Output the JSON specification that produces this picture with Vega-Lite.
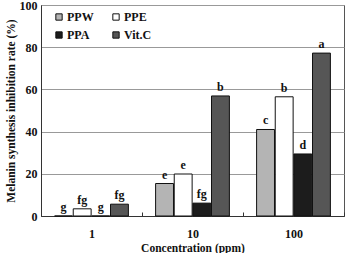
{
  "$schema": "https://vega.github.io/schema/vega-lite/v6.json",
  "width": 303,
  "height": 211,
  "autosize": {"type": "none"},
  "padding": {"left": 41, "top": 5, "right": 2, "bottom": 37},
  "background": "white",
  "data": {
    "values": [
      {"conc": "1", "extract": "PPW", "rate": 0, "sig": "g"},
      {"conc": "1", "extract": "PPE", "rate": 3.4, "sig": "fg"},
      {"conc": "1", "extract": "PPA", "rate": 0, "sig": "g"},
      {"conc": "1", "extract": "Vit.C", "rate": 5.6, "sig": "fg"},
      {"conc": "10", "extract": "PPW", "rate": 15.4, "sig": "e"},
      {"conc": "10", "extract": "PPE", "rate": 19.9, "sig": "e"},
      {"conc": "10", "extract": "PPA", "rate": 6.1, "sig": "fg"},
      {"conc": "10", "extract": "Vit.C", "rate": 56.9, "sig": "b"},
      {"conc": "100", "extract": "PPW", "rate": 41.0, "sig": "c"},
      {"conc": "100", "extract": "PPE", "rate": 56.5, "sig": "b"},
      {"conc": "100", "extract": "PPA", "rate": 29.4, "sig": "d"},
      {"conc": "100", "extract": "Vit.C", "rate": 77.2, "sig": "a"}
    ]
  },
  "encoding": {
    "x": {
      "field": "conc",
      "type": "ordinal",
      "sort": ["1", "10", "100"],
      "scale": {"paddingInner": 0, "paddingOuter": 0},
      "axis": {
        "title": "Concentration (ppm)",
        "labelAngle": 0,
        "tickBand": "extent",
        "tickSize": -4,
        "tickColor": "#333",
        "domainColor": "#333",
        "labelPadding": 16,
        "titlePadding": 3
      }
    },
    "xOffset": {
      "field": "extract",
      "type": "nominal",
      "sort": ["PPW", "PPE", "PPA", "Vit.C"],
      "scale": {"paddingOuter": 0.73, "paddingInner": 0.04}
    },
    "y": {
      "field": "rate",
      "type": "quantitative",
      "scale": {"domain": [0, 100]},
      "axis": {
        "title": "Melanin synthesis inhibition rate (%)",
        "values": [0, 20, 40, 60, 80, 100],
        "ticks": false,
        "grid": true,
        "gridColor": "#999",
        "domainColor": "#333",
        "labelPadding": 4,
        "titlePadding": 3
      }
    }
  },
  "layer": [
    {
      "mark": {"type": "bar", "stroke": "#111", "strokeWidth": 1},
      "encoding": {
        "color": {
          "field": "extract",
          "type": "nominal",
          "scale": {
            "domain": ["PPW", "PPA", "PPE", "Vit.C"],
            "range": ["#b4b4b4", "#1c1c1c", "#ffffff", "#565656"]
          },
          "legend": {
            "title": null,
            "orient": "none",
            "legendX": 12,
            "legendY": 6,
            "columns": 2,
            "columnPadding": 16,
            "rowPadding": 6,
            "symbolType": "square",
            "symbolSize": 40,
            "symbolStrokeColor": "#111",
            "symbolStrokeWidth": 1,
            "labelFont": "Liberation Serif",
            "labelFontWeight": "bold",
            "labelFontSize": 12,
            "labelColor": "#111",
            "labelOffset": 2,
            "padding": 0
          }
        }
      }
    },
    {
      "mark": {
        "type": "text",
        "baseline": "bottom",
        "dy": -2,
        "font": "Liberation Serif",
        "fontWeight": "bold",
        "fontSize": 12,
        "color": "#111"
      },
      "encoding": {"text": {"field": "sig"}}
    }
  ],
  "config": {
    "view": {"stroke": "#555", "strokeWidth": 1},
    "axis": {
      "labelFont": "Liberation Serif",
      "labelFontWeight": "bold",
      "labelFontSize": 12,
      "labelColor": "#111",
      "titleFont": "Liberation Serif",
      "titleFontWeight": "bold",
      "titleFontSize": 11.5,
      "titleColor": "#111"
    }
  }
}
